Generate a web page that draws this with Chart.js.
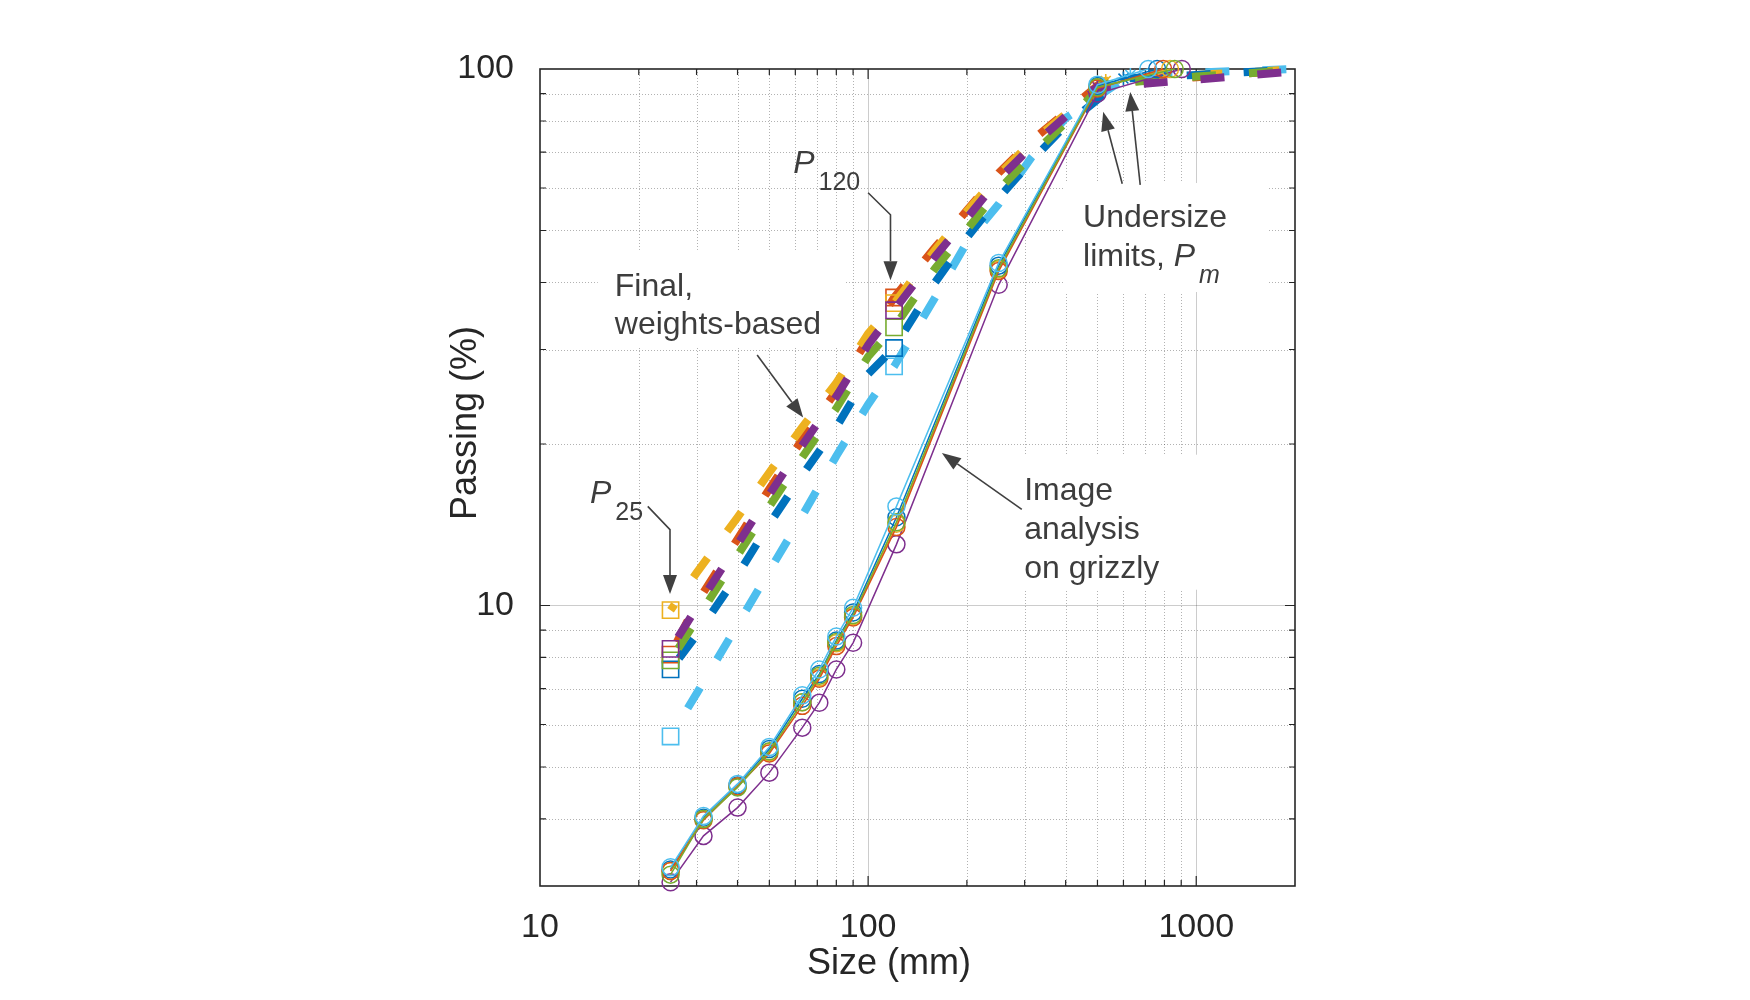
<!DOCTYPE html>
<html>
<head>
<meta charset="utf-8">
<title>Passing curves</title>
<script src="https://cdn.jsdelivr.net/npm/chart.js@4.4.1/dist/chart.umd.min.js"></script>
<style>
  body { margin: 0; background: #ffffff; }
  canvas { display: block; }
</style>
</head>
<body>
<canvas id="chart" width="1750" height="1000"></canvas>
<script>
// SIZES (mm)
var weightSizes = [25, 30, 40, 50, 63, 80, 100, 120, 160, 200, 250, 315, 400];
var tailSizes = [1000, 2000];
var imageSizes = [25, 31.5, 40, 50, 63, 71, 80, 90, 122, 250, 500];

// Final, weights-based passing (%) at weightSizes
var wOrange    = [8.1, 10.1, 13.3, 16.5, 20.4, 25.1, 31.4, 37.5, 46.5, 54.5, 64.0, 73.5, 83.0];
var wYellow    = [9.8, 11.5, 14.6, 17.7, 21.5, 26.0, 32.1, 36.6, 46.0, 54.3, 63.5, 73.1, 82.4];
var wPurple    = [8.3, 9.9, 13.0, 16.1, 19.9, 24.5, 30.6, 35.5, 44.7, 52.7, 62.3, 71.7, 81.6];
var wGreen     = [7.9, 9.4, 12.4, 15.3, 18.9, 23.3, 29.1, 33.0, 42.5, 50.2, 59.5, 69.0, 79.5];
var wBlue      = [7.6, 8.8, 11.4, 14.2, 17.5, 21.5, 27.0, 30.2, 40.0, 48.5, 57.5, 67.5, 78.5];
var wLightBlue = [5.7, 6.85, 9.2, 11.6, 14.7, 19.0, 23.7, 27.9, 37.5, 47.5, 56.0, 68.5, 81.0];

// undersize limits Pm: [size, passing]
var pmOrange = [510, 94];
var pmYellow = [530, 95];
var pmPurple = [500, 92.5];
var pmGreen = [520, 93.5];
var pmBlue = [600, 96];
var pmLightBlue = [630, 97.5];

// passing (%) at tailSizes
var tailOrange = [96.5, 99.6];
var tailYellow = [97.5, 99.8];
var tailPurple = [95.5, 99.0];
var tailGreen = [96.8, 99.5];
var tailBlue = [97.5, 99.8];
var tailLightBlue = [98.5, 100];

// Image analysis on grizzly, passing (%) at imageSizes
var iaOrange    = [3.2, 3.98, 4.6, 5.3, 6.5, 7.3, 8.4, 9.5, 14.0, 42.0, 92.0];
var iaYellow    = [3.2, 4.0, 4.6, 5.33, 6.6, 7.35, 8.5, 9.55, 14.2, 42.3, 92.3];
var iaPurple    = [3.05, 3.72, 4.2, 4.88, 5.92, 6.59, 7.6, 8.52, 13.0, 39.6, 90.0];
var iaGreen     = [3.15, 4.0, 4.58, 5.35, 6.6, 7.4, 8.55, 9.6, 14.3, 42.5, 92.5];
var iaBlue      = [3.22, 4.02, 4.62, 5.4, 6.7, 7.45, 8.6, 9.7, 14.6, 43.0, 93.0];
var iaLightBlue = [3.25, 4.05, 4.65, 5.45, 6.8, 7.6, 8.75, 9.9, 15.3, 43.5, 93.5];

// size (mm) where each image analysis curve reaches 100 %
var iaEndOrange = 793;
var iaEndYellow = 832;
var iaEndPurple = 904;
var iaEndGreen = 860;
var iaEndBlue = 760;
var iaEndLightBlue = 714;

var xTickLabels = [10, 100, 1000];
var yTickLabels = [10, 100];

// notes, placed in [size, passing]
var noteLines = [
  ['Final,', 16.9, 37.8],
  ['weights-based', 16.9, 32.0],
  ['Image', 299, 15.75],
  ['analysis', 299, 13.33],
  ['on grizzly', 299, 11.27],
  ['Undersize', 452, 50.8],
  ['limits, ', 452, 43.0]
];
var noteP = [['120', 59.1, 64.0], ['25', 14.2, 15.55]];
var noteArrows = [
  [[100, 58.8], [117, 53.5], [117, 40.4]],
  [[21.3, 15.3], [24.9, 13.85], [24.9, 10.5]],
  [[45.9, 29.3], [63.4, 22.4]],
  [[294, 15.1], [167.8, 19.25]],
  [[595, 61.1], [520.6, 83.2]],
  [[675, 60.8], [629.3, 90.6]]
];
var noteBoxes = [
  [15.0, 46.0, 85.1, 30.2],
  [261.7, 19.1, 1028, 10.7],
  [393, 61.3, 1647, 38.4]
];

var FONT = "'Liberation Sans', Arial, Helvetica, sans-serif";
var INK = '#262626';
var NOTE = '#3d3d3d';

var colors = {
  blue: '#0072BD', orange: '#D95319', yellow: '#EDB120',
  purple: '#7E2F8E', green: '#77AC30', lightBlue: '#4DBEEE'
};

function weightsSeries(label, color, vals, pm, tail, dashOffset) {
  var pts = [];
  weightSizes.forEach(function(s, i) { pts.push({x: s, y: vals[i]}); });
  var pmIndex = pts.length;
  pts.push({x: pm[0], y: pm[1]});
  tailSizes.forEach(function(s, i) { pts.push({x: s, y: tail[i]}); });
  return {
    label: label,
    data: pts,
    borderColor: color,
    borderWidth: 8,
    borderDash: [24, 33],
    borderDashOffset: dashOffset,
    pointBorderColor: color,
    pointBackgroundColor: 'rgba(0,0,0,0)',
    pointBorderWidth: 1.6,
    pointStyle: function(c) { return c.dataIndex === pmIndex ? 'star' : 'rect'; },
    pointRadius: function(c) {
      if (c.dataIndex === pmIndex) return 7;
      var s = pts[c.dataIndex].x;
      return (s === 25 || s === 120) ? 11.5 : 0;
    },
    tension: 0,
    clip: false
  };
}

function imageSeries(label, color, vals, end) {
  var pts = [];
  imageSizes.forEach(function(s, i) { pts.push({x: s, y: vals[i]}); });
  pts.push({x: end, y: 100});
  return {
    label: label,
    data: pts,
    borderColor: color,
    borderWidth: 1.5,
    pointStyle: 'circle',
    pointRadius: 8.5,
    pointBorderWidth: 1.5,
    pointBorderColor: color,
    pointBackgroundColor: 'rgba(0,0,0,0)',
    tension: 0,
    clip: false
  };
}

function isLabel(list, v) {
  return list.some(function(t) { return Math.abs(t - v) < t * 1e-6; });
}

function minorValues(from, to) {
  var out = [];
  for (var d = from; d < to; d *= 10) {
    for (var k = 2; k <= 9; k++) { out.push(k * d); }
  }
  return out;
}

function at(chart, s, p) {
  return [chart.scales.x.getPixelForValue(s), chart.scales.y.getPixelForValue(p)];
}

function arrow(ctx, pts) {
  var n = pts.length, tip = pts[n - 1], prev = pts[n - 2];
  var dx = tip[0] - prev[0], dy = tip[1] - prev[1], len = Math.hypot(dx, dy);
  var ux = dx / len, uy = dy / len, hl = 19, hw = 7;
  var bx = tip[0] - ux * hl, by = tip[1] - uy * hl;
  ctx.beginPath();
  ctx.moveTo(pts[0][0], pts[0][1]);
  for (var i = 1; i < n - 1; i++) ctx.lineTo(pts[i][0], pts[i][1]);
  ctx.lineTo(bx, by);
  ctx.stroke();
  ctx.beginPath();
  ctx.moveTo(tip[0], tip[1]);
  ctx.lineTo(bx - uy * hw, by + ux * hw);
  ctx.lineTo(bx + uy * hw, by - ux * hw);
  ctx.closePath();
  ctx.fill();
}

// grid, frame, ticks, notes
var frame = {
  id: 'frame',
  beforeDatasetsDraw: function(chart) {
    var ctx = chart.ctx, a = chart.chartArea, xs = chart.scales.x, ys = chart.scales.y;
    var xMinor = minorValues(10, 2000).filter(function(v) { return v < xs.max; });
    var yMinor = minorValues(1, 100).filter(function(v) { return v > ys.min && v < ys.max; });
    var xMajor = [100, 1000], yMajor = [10];
    ctx.save();
    ctx.lineWidth = 1;

    // minor grid (dotted)
    ctx.strokeStyle = 'rgba(0,0,0,0.3)';
    ctx.setLineDash([1, 2]);
    xMinor.forEach(function(v) {
      var x = Math.round(xs.getPixelForValue(v)) + 0.5;
      ctx.beginPath(); ctx.moveTo(x, a.top); ctx.lineTo(x, a.bottom); ctx.stroke();
    });
    yMinor.forEach(function(v) {
      var y = Math.round(ys.getPixelForValue(v)) + 0.5;
      ctx.beginPath(); ctx.moveTo(a.left, y); ctx.lineTo(a.right, y); ctx.stroke();
    });

    // major grid
    ctx.setLineDash([]);
    ctx.strokeStyle = 'rgba(0,0,0,0.2)';
    xMajor.forEach(function(v) {
      var x = Math.round(xs.getPixelForValue(v)) + 0.5;
      ctx.beginPath(); ctx.moveTo(x, a.top); ctx.lineTo(x, a.bottom); ctx.stroke();
    });
    yMajor.forEach(function(v) {
      var y = Math.round(ys.getPixelForValue(v)) + 0.5;
      ctx.beginPath(); ctx.moveTo(a.left, y); ctx.lineTo(a.right, y); ctx.stroke();
    });

    // white boxes behind the notes
    ctx.fillStyle = '#ffffff';
    noteBoxes.forEach(function(b) {
      var p1 = at(chart, b[0], b[1]), p2 = at(chart, b[2], b[3]);
      ctx.fillRect(p1[0], p1[1], p2[0] - p1[0], p2[1] - p1[1]);
    });

    // inward ticks
    ctx.strokeStyle = INK;
    ctx.lineWidth = 1.2;
    function xTick(v, len) {
      var x = xs.getPixelForValue(v);
      ctx.beginPath();
      ctx.moveTo(x, a.bottom); ctx.lineTo(x, a.bottom - len);
      ctx.moveTo(x, a.top); ctx.lineTo(x, a.top + len);
      ctx.stroke();
    }
    function yTick(v, len) {
      var y = ys.getPixelForValue(v);
      ctx.beginPath();
      ctx.moveTo(a.left, y); ctx.lineTo(a.left + len, y);
      ctx.moveTo(a.right, y); ctx.lineTo(a.right - len, y);
      ctx.stroke();
    }
    xMinor.forEach(function(v) { xTick(v, 6); });
    xMajor.forEach(function(v) { xTick(v, 10); });
    yMinor.forEach(function(v) { yTick(v, 6); });
    yMajor.forEach(function(v) { yTick(v, 10); });

    // box
    ctx.lineWidth = 1.6;
    ctx.strokeRect(a.left, a.top, a.right - a.left, a.bottom - a.top);

    // axis titles
    ctx.fillStyle = INK;
    ctx.font = '36px ' + FONT;
    ctx.textAlign = 'center';
    ctx.textBaseline = 'middle';
    ctx.fillText('Size (mm)', a.left + 349, 964);
    ctx.save();
    ctx.translate(466, a.top + 354);
    ctx.rotate(-Math.PI / 2);
    ctx.fillText('Passing (%)', 0, 0);
    ctx.restore();
    ctx.restore();
  },
  afterDatasetsDraw: function(chart) {
    var ctx = chart.ctx;
    ctx.save();
    ctx.fillStyle = NOTE;
    ctx.strokeStyle = '#404040';
    ctx.lineWidth = 1.6;
    ctx.textAlign = 'left';
    ctx.textBaseline = 'alphabetic';

    var limitsEnd = null;
    noteLines.forEach(function(n) {
      var p = at(chart, n[1], n[2]);
      ctx.font = '32px ' + FONT;
      ctx.fillText(n[0], p[0], p[1]);
      if (n[0] === 'limits, ') limitsEnd = [p[0] + ctx.measureText(n[0]).width, p[1]];
    });

    // italic P with subscripts
    function pSub(x, y, sub, italicSub) {
      ctx.font = 'italic 32px ' + FONT;
      ctx.fillText('P', x, y);
      var w = ctx.measureText('P').width;
      ctx.font = (italicSub ? 'italic ' : '') + '25px ' + FONT;
      ctx.fillText(sub, x + w + 4, y + 17);
    }
    noteP.forEach(function(n) {
      var p = at(chart, n[1], n[2]);
      pSub(p[0], p[1], n[0], false);
    });
    if (limitsEnd) pSub(limitsEnd[0], limitsEnd[1], 'm', true);

    ctx.fillStyle = '#404040';
    noteArrows.forEach(function(list) {
      arrow(ctx, list.map(function(q) { return at(chart, q[0], q[1]); }));
    });
    ctx.restore();
  }
};

var datasets = [
  imageSeries('Image analysis', colors.lightBlue, iaLightBlue, iaEndLightBlue),
  imageSeries('Image analysis', colors.green, iaGreen, iaEndGreen),
  imageSeries('Image analysis', colors.orange, iaOrange, iaEndOrange),
  imageSeries('Image analysis', colors.yellow, iaYellow, iaEndYellow),
  imageSeries('Image analysis', colors.blue, iaBlue, iaEndBlue),
  imageSeries('Image analysis', colors.purple, iaPurple, iaEndPurple),
  weightsSeries('Final', colors.purple, wPurple, pmPurple, tailPurple, 43),
  weightsSeries('Final', colors.green, wGreen, pmGreen, tailGreen, 43),
  weightsSeries('Final', colors.blue, wBlue, pmBlue, tailBlue, 43),
  weightsSeries('Final', colors.yellow, wYellow, pmYellow, tailYellow, 17),
  weightsSeries('Final', colors.lightBlue, wLightBlue, pmLightBlue, tailLightBlue, 24),
  weightsSeries('Final', colors.orange, wOrange, pmOrange, tailOrange, 43)
];

var ctx = document.getElementById('chart').getContext('2d');
new Chart(ctx, {
  type: 'line',
  data: { datasets: datasets },
  options: {
    responsive: false,
    animation: false,
    events: [],
    layout: { padding: { left: 444, right: 455, top: 69, bottom: 0 } },
    plugins: { legend: { display: false }, tooltip: { enabled: false } },
    scales: {
      x: {
        type: 'logarithmic',
        position: 'bottom',
        min: 10,
        max: 2000,
        grid: { display: false },
        border: { display: false },
        ticks: {
          autoSkip: false,
          maxRotation: 0,
          padding: 13,
          color: INK,
          font: { family: FONT, size: 34 },
          callback: function(v) { return isLabel(xTickLabels, v) ? String(v) : ''; }
        },
        afterFit: function(s) { s.height = 114; }
      },
      y: {
        type: 'logarithmic',
        position: 'left',
        min: 3,
        max: 100,
        grid: { display: false },
        border: { display: false },
        ticks: {
          autoSkip: false,
          padding: 18,
          color: INK,
          font: { family: FONT, size: 34 },
          callback: function(v) { return isLabel(yTickLabels, v) ? String(v) : ''; }
        },
        afterFit: function(s) { s.width = 96; }
      }
    }
  },
  plugins: [frame]
});
</script>
</body>
</html>
